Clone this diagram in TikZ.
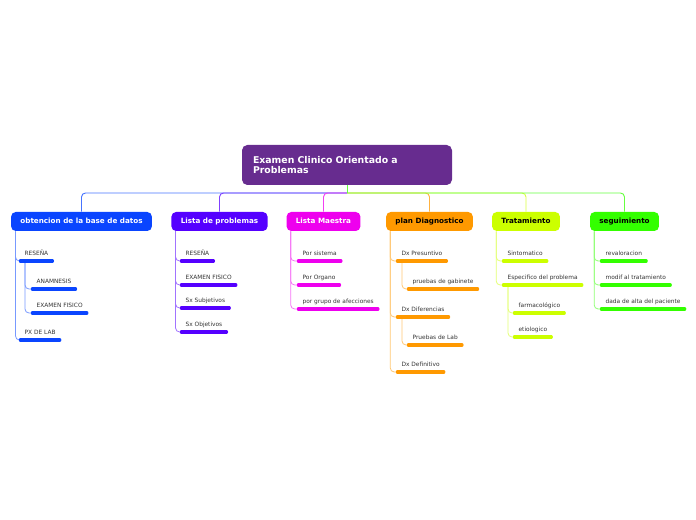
\documentclass[tikz,border=0pt]{standalone}
\usepackage{fontspec}
\setmainfont{DejaVu Sans}
\usepackage{tikz}
\usetikzlibrary{positioning}
\definecolor{rootc}{HTML}{672C8F}
\definecolor{bluec}{HTML}{0A45FF}
\definecolor{violetc}{HTML}{5500FF}
\definecolor{magentac}{HTML}{EE00EE}
\definecolor{orangec}{HTML}{FF9900}
\definecolor{limec}{HTML}{CCFF00}
\definecolor{greenc}{HTML}{33FF00}
\definecolor{subtext}{HTML}{333333}
\tikzset{
  rootbox/.style={
    rectangle, fill=rootc, rounded corners=4pt, text=white,
    font=\fontsize{7}{8.2}\selectfont\bfseries, align=left,
    text width=141pt, minimum height=30pt, inner xsep=8.25pt
  },
  topicbox/.style={
    rectangle, fill=#1, rounded corners=3.5pt, text=white,
    font=\fontsize{5.4}{6}\selectfont\bfseries,
    text height=4.1pt, text depth=1.1pt,
    minimum height=14.25pt, inner xsep=7pt
  },
  topicbox/.default=bluec,
  subitem/.style={
    anchor=south west, text=subtext,
    font=\fontsize{4.4}{5}\selectfont,
    inner xsep=4pt, inner ysep=3.6pt, text depth=0pt
  },
  subbar/.style={line width=2.3pt, line cap=round, draw=#1},
  link/.style={draw=#1!55, line width=0.6pt, rounded corners=3pt},
  toplink/.style={draw=#1!75, line width=0.7pt, rounded corners=3pt},
}
\newcommand{\itembar}[2]{\draw[subbar=#1] ([xshift=1pt]#2.south west) -- ([xshift=-1pt]#2.south east);}

\begin{document}
\begin{tikzpicture}[x=0.75pt, y=-0.75pt]
  \useasboundingbox (0,0) rectangle (696,520);
  % central topic
  \node[rootbox] (root) at (347,165) {Examen Clinico Orientado a\\Problemas};
  \coordinate (hub) at (347,193);
  % main topics
  \node[topicbox=bluec] (m1) at (81.5,221.5) {obtencion de la base de datos};
  \node[topicbox=violetc] (m2) at (219.5,221.5) {Lista de problemas};
  \node[topicbox=magentac] (m3) at (323.5,221.5) {Lista Maestra};
  \node[topicbox=orangec, text=black] (m4) at (429.5,221.5) {plan Diagnostico};
  \node[topicbox=limec, text=black] (m5) at (526,221.5) {Tratamiento};
  \node[topicbox=greenc, text=black] (m6) at (624.5,221.5) {seguimiento};
  \draw[toplink=bluec] (hub) -| (m1.north);
  \draw[toplink=violetc] (hub) -| (m2.north);
  \draw[toplink=magentac] (hub) -| (m3.north);
  \draw[toplink=orangec] (hub) -| (m4.north);
  \draw[toplink=limec] (hub) -| (m5.north);
  \draw[toplink=greenc] (hub) -| (m6.north);
  \draw[toplink=greenc, rounded corners=0pt] (root.south) -- (hub);

  % obtencion de la base de datos
  \node[subitem] (s1a) at (19,261) {RESEÑA};
  \node[subitem] (s1b) at (31,289) {ANAMNESIS};
  \node[subitem] (s1c) at (31,313) {EXAMEN FISICO};
  \node[subitem] (s1d) at (19,340) {PX DE LAB};
  \draw[link=bluec] ([xshift=3.5pt]m1.south west) |- (s1a.south west);
  \draw[link=bluec] ([xshift=3.5pt]m1.south west) |- (s1d.south west);
  \draw[link=bluec] ([xshift=4.5pt]s1a.south west) |- (s1b.south west);
  \draw[link=bluec] ([xshift=4.5pt]s1a.south west) |- (s1c.south west);
  \foreach \s in {s1a,s1b,s1c,s1d} {\itembar{bluec}{\s}}

  % Lista de problemas
  \node[subitem] (s2a) at (180,261) {RESEÑA};
  \node[subitem] (s2b) at (180,285) {EXAMEN FISICO};
  \node[subitem] (s2c) at (180,308) {Sx Subjetivos};
  \node[subitem] (s2d) at (180,332) {Sx Objetivos};
  \foreach \s in {s2a,s2b,s2c,s2d}
    \draw[link=violetc] ([xshift=3.3pt]m2.south west) |- (\s.south west);
  \foreach \s in {s2a,s2b,s2c,s2d} {\itembar{violetc}{\s}}

  % Lista Maestra
  \node[subitem] (s3a) at (297,261) {Por sistema};
  \node[subitem] (s3b) at (297,285) {Por Organo};
  \node[subitem] (s3c) at (297,309) {por grupo de afecciones};
  \foreach \s in {s3a,s3b,s3c}
    \draw[link=magentac] ([xshift=3.3pt]m3.south west) |- (\s.south west);
  \foreach \s in {s3a,s3b,s3c} {\itembar{magentac}{\s}}

  % plan Diagnostico
  \node[subitem] (s4a) at (396,261) {Dx Presuntivo};
  \node[subitem] (s4b) at (407,289) {pruebas de gabinete};
  \node[subitem] (s4c) at (396,317) {Dx Diferencias};
  \node[subitem] (s4d) at (407,345) {Pruebas de Lab};
  \node[subitem] (s4e) at (396,372) {Dx Definitivo};
  \foreach \s in {s4a,s4c,s4e}
    \draw[link=orangec] ([xshift=3.3pt]m4.south west) |- (\s.south west);
  \draw[link=orangec] ([xshift=4.5pt]s4a.south west) |- (s4b.south west);
  \draw[link=orangec] ([xshift=4.5pt]s4c.south west) |- (s4d.south west);
  \foreach \s in {s4a,s4b,s4c,s4d,s4e} {\itembar{orangec}{\s}}

  % Tratamiento
  \node[subitem] (s5a) at (502,261) {Sintomatico};
  \node[subitem] (s5b) at (502,285) {Especifico del problema};
  \node[subitem] (s5c) at (513,313) {farmacológico};
  \node[subitem] (s5d) at (513,337) {etiologico};
  \foreach \s in {s5a,s5b}
    \draw[link=limec] ([xshift=3.3pt]m5.south west) |- (\s.south west);
  \foreach \s in {s5c,s5d}
    \draw[link=limec] ([xshift=4.5pt]s5b.south west) |- (\s.south west);
  \foreach \s in {s5a,s5b,s5c,s5d} {\itembar{limec}{\s}}

  % seguimiento
  \node[subitem] (s6a) at (600,261) {revaloracion};
  \node[subitem] (s6b) at (600,285) {modif al tratamiento};
  \node[subitem] (s6c) at (600,309) {dada de alta del paciente};
  \foreach \s in {s6a,s6b,s6c}
    \draw[link=greenc] ([xshift=3.3pt]m6.south west) |- (\s.south west);
  \foreach \s in {s6a,s6b,s6c} {\itembar{greenc}{\s}}
\end{tikzpicture}
\end{document}
